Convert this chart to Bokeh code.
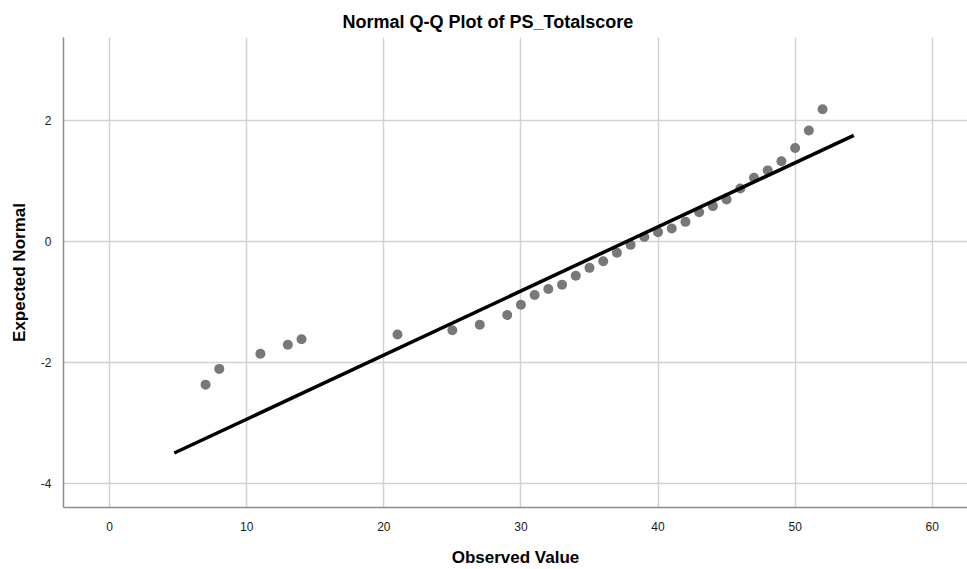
from bokeh.plotting import figure
from bokeh.models import Range1d, FixedTicker, Title
from bokeh.embed import file_html
from bokeh.resources import INLINE

# Observed scores and their expected normal quantiles
observed = [7, 8, 11, 13, 14, 21, 25, 27, 29, 30, 31, 32, 33, 34, 35, 36, 37,
            38, 39, 40, 41, 42, 43, 44, 45, 46, 47, 48, 49, 50, 51, 52]
expected = [-2.36, -2.10, -1.85, -1.70, -1.61, -1.53, -1.46, -1.37, -1.21,
            -1.04, -0.88, -0.78, -0.71, -0.56, -0.43, -0.32, -0.18, -0.05,
            0.08, 0.16, 0.22, 0.33, 0.49, 0.59, 0.70, 0.88, 1.06, 1.18, 1.33,
            1.55, 1.84, 2.19]

# Reference line endpoints
line_x = [4.72, 54.28]
line_y = [-3.49, 1.76]

x_ticks = [0, 10, 20, 30, 40, 50, 60]
y_ticks = [-4, -2, 0, 2]

FONT = "Liberation Sans"

p = figure(width=967, height=569, output_backend="svg", toolbar_location=None,
           x_range=Range1d(-3.36, 62.57), y_range=Range1d(-4.39, 3.376),
           min_border_left=63, min_border_right=0, min_border_top=37,
           min_border_bottom=60)

p.add_layout(Title(text="Normal Q-Q Plot of PS_Totalscore", align="left",
                   text_font=FONT, text_font_size="18px", text_font_style="bold",
                   text_color="#000000", offset=279, standoff=12), "above")

p.outline_line_color = None
p.background_fill_color = "white"
p.border_fill_color = "white"

for ax in (p.xaxis[0], p.yaxis[0]):
    ax.axis_line_color = "#8c8c8c"
    ax.axis_line_width = 1.5
    ax.major_tick_line_color = None
    ax.minor_tick_line_color = None
    ax.major_label_text_font = FONT
    ax.major_label_text_font_size = "12px"
    ax.major_label_text_color = "#1a1a1a"
    ax.axis_label_text_font = FONT
    ax.axis_label_text_font_size = "17px"
    ax.axis_label_text_font_style = "bold"
    ax.axis_label_text_color = "#000000"

p.xaxis.ticker = FixedTicker(ticks=x_ticks)
p.yaxis.ticker = FixedTicker(ticks=y_ticks)
p.yaxis.major_label_overrides = {t: str(t) for t in y_ticks}
p.xaxis.axis_label = "Observed Value"
p.yaxis.axis_label = "Expected Normal"
p.xaxis.major_label_standoff = 8
p.yaxis.major_label_standoff = 6
p.xaxis.axis_label_standoff = 14
p.yaxis.axis_label_standoff = 9

p.grid.grid_line_color = "#d2d2d2"
p.grid.grid_line_width = 1.5

p.scatter(observed, expected, size=10, fill_color="#787878", line_color=None)
p.line(line_x, line_y, line_color="#000000", line_width=3.5)

open("out.html", "w").write(file_html(p, INLINE))
